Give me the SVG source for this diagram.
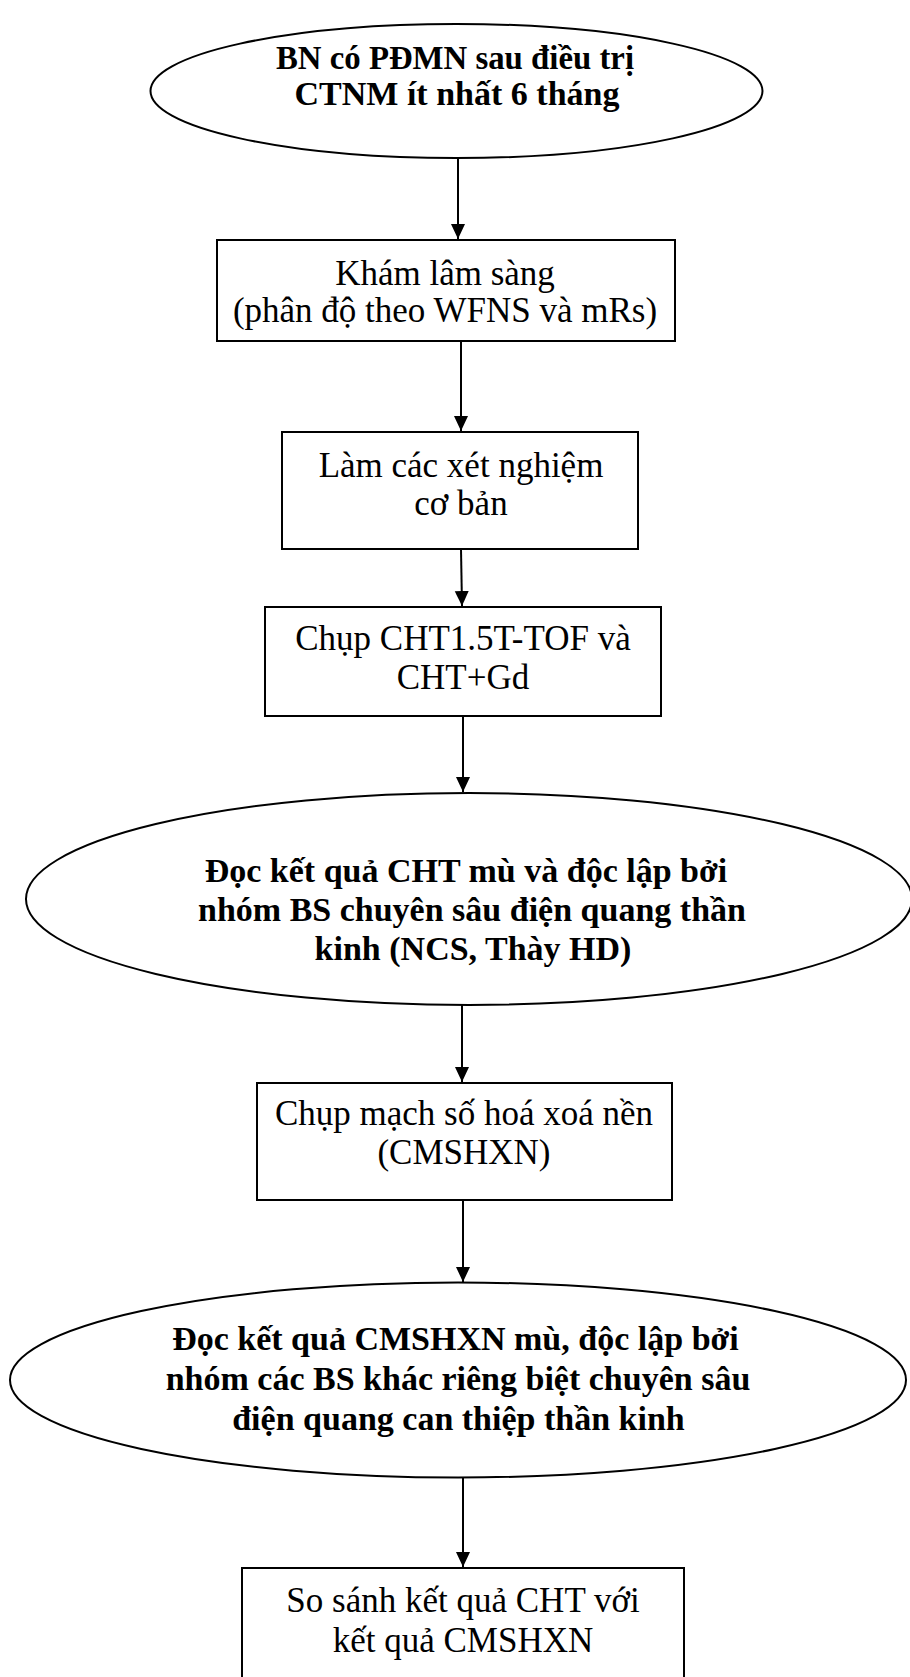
<svg xmlns="http://www.w3.org/2000/svg" width="910" height="1677" viewBox="0 0 910 1677">
<style>
.shape{fill:#fff;stroke:#000;stroke-width:2}
.t{font-family:"Liberation Serif","Times New Roman",serif;font-size:35px;fill:#000;text-anchor:middle}
.b{font-weight:bold;font-size:34px}
.c{stroke:#000;stroke-width:2;fill:none;marker-end:url(#ah)}
</style>
<defs>
<marker id="ah" markerUnits="userSpaceOnUse" markerWidth="16" markerHeight="16" refX="15" refY="7" orient="auto">
<path d="M0,0 L15,7 L0,14 z" fill="#000"/>
</marker>
</defs>
<rect width="910" height="1677" fill="#fff"/>
<g id="connectors">
<line class="c" x1="458" y1="158" x2="458" y2="239"/>
<line class="c" x1="461" y1="341" x2="461" y2="431"/>
<line class="c" x1="461" y1="549" x2="462" y2="606"/>
<line class="c" x1="463" y1="716" x2="463" y2="792"/>
<line class="c" x1="462" y1="1005" x2="462" y2="1082"/>
<line class="c" x1="463" y1="1200" x2="463" y2="1282"/>
<line class="c" x1="463" y1="1478" x2="463" y2="1567"/>
</g>
<g id="n1">
<ellipse class="shape" cx="456.5" cy="91" rx="306" ry="67"/>
<text class="t b" x="455" y="69" textLength="358" lengthAdjust="spacingAndGlyphs">BN có PĐMN sau điều trị</text>
<text class="t b" x="457" y="105">CTNM ít nhất 6 tháng</text>
</g>
<g id="n2">
<rect class="shape" x="217" y="240" width="458" height="101"/>
<text class="t" x="445" y="285">Khám lâm sàng</text>
<text class="t" x="445" y="322">(phân độ theo WFNS và mRs)</text>
</g>
<g id="n3">
<rect class="shape" x="282" y="432" width="356" height="117"/>
<text class="t" x="461" y="477">Làm các xét nghiệm</text>
<text class="t" x="461" y="515">cơ bản</text>
</g>
<g id="n4">
<rect class="shape" x="265" y="607" width="396" height="109"/>
<text class="t" x="463" y="650">Chụp CHT1.5T-TOF và</text>
<text class="t" x="463" y="689">CHT+Gd</text>
</g>
<g id="n5">
<ellipse class="shape" cx="469" cy="899" rx="443" ry="106"/>
<text class="t b" x="466" y="882">Đọc kết quả CHT mù và độc lập bởi</text>
<text class="t b" x="472" y="921">nhóm BS chuyên sâu điện quang thần</text>
<text class="t b" x="473" y="960">kinh (NCS, Thày HD)</text>
</g>
<g id="n6">
<rect class="shape" x="257" y="1083" width="415" height="117"/>
<text class="t" x="464" y="1125">Chụp mạch số hoá xoá nền</text>
<text class="t" x="464" y="1164">(CMSHXN)</text>
</g>
<g id="n7">
<ellipse class="shape" cx="458" cy="1380" rx="448" ry="97.5"/>
<text class="t b" x="455.5" y="1350">Đọc kết quả CMSHXN mù, độc lập bởi</text>
<text class="t b" x="458" y="1390">nhóm các BS khác riêng biệt chuyên sâu</text>
<text class="t b" x="458.5" y="1430">điện quang can thiệp thần kinh</text>
</g>
<g id="n8">
<rect class="shape" x="242" y="1568" width="442" height="130"/>
<text class="t" x="463" y="1612">So sánh kết quả CHT với</text>
<text class="t" x="463" y="1652">kết quả CMSHXN</text>
</g>
</svg>
